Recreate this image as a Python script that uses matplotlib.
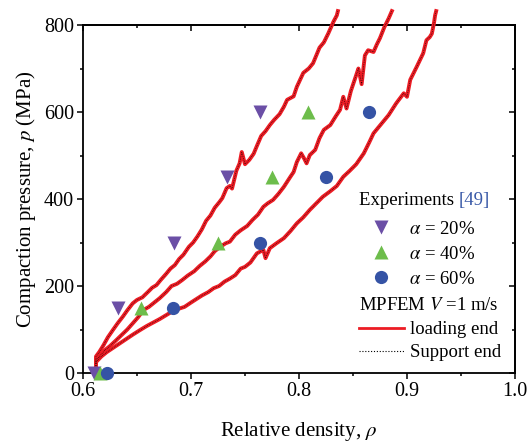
"""Compaction curves: MPFEM pressure vs relative density compared with experiments."""

import matplotlib

matplotlib.use("Agg", force=True)

import matplotlib.pyplot as plt
from matplotlib.lines import Line2D
from matplotlib.ticker import MultipleLocator

plt.rcParams["font.family"] = ["Liberation Serif", "DejaVu Serif"]
plt.rcParams["mathtext.fontset"] = "stix"

# experimental points, three mixing ratios
exp20_rho = [0.610, 0.632, 0.684, 0.733, 0.764]
exp20_p = [0, 150, 300, 450, 600]
exp40_rho = [0.616, 0.654, 0.725, 0.775, 0.808]
exp40_p = [0, 150, 300, 450, 600]
exp60_rho = [0.622, 0.683, 0.764, 0.825, 0.865]
exp60_p = [0, 150, 300, 450, 600]

# MPFEM, alpha = 20 %
sim20_rho = [0.612, 0.612, 0.615, 0.619, 0.623, 0.628, 0.632, 0.637, 0.641, 0.646,
             0.650, 0.655, 0.660, 0.664, 0.668, 0.672, 0.677, 0.681, 0.685, 0.689,
             0.693, 0.698, 0.702, 0.706, 0.710, 0.714, 0.718, 0.722, 0.726, 0.729,
             0.733, 0.736, 0.738, 0.742, 0.745, 0.747, 0.750, 0.754, 0.758, 0.761,
             0.765, 0.769, 0.773, 0.777, 0.782, 0.786, 0.789, 0.795, 0.798, 0.804,
             0.809, 0.813, 0.819, 0.823, 0.827, 0.832, 0.835, 0.836]
sim20_p = [0, 38, 48, 64, 82, 100, 114, 130, 144, 160,
           168, 174, 186, 196, 202, 214, 228, 240, 248, 262,
           272, 290, 300, 314, 330, 350, 362, 380, 392, 402,
           425, 430, 424, 465, 482, 508, 480, 490, 504, 522,
           545, 556, 570, 582, 595, 612, 628, 636, 658, 690,
           700, 712, 748, 760, 780, 808, 822, 832]

# MPFEM, alpha = 40 %
sim40_rho = [0.612, 0.612, 0.616, 0.620, 0.625, 0.631, 0.636, 0.641, 0.646, 0.651,
             0.656, 0.661, 0.666, 0.671, 0.677, 0.682, 0.687, 0.692, 0.697, 0.703,
             0.708, 0.713, 0.718, 0.722, 0.727, 0.732, 0.736, 0.741, 0.746, 0.752,
             0.757, 0.762, 0.767, 0.771, 0.776, 0.781, 0.786, 0.792, 0.795, 0.798,
             0.802, 0.805, 0.807, 0.810, 0.815, 0.819, 0.823, 0.829, 0.834, 0.838,
             0.841, 0.844, 0.848, 0.853, 0.855, 0.858, 0.861, 0.864, 0.869, 0.872,
             0.875, 0.879, 0.883, 0.886]
sim40_p = [0, 30, 40, 52, 62, 76, 88, 100, 114, 128,
           145, 152, 162, 172, 186, 200, 205, 214, 224, 234,
           246, 256, 268, 280, 290, 298, 302, 318, 328, 338,
           352, 364, 382, 390, 398, 412, 428, 451, 462, 485,
           505, 492, 482, 501, 513, 540, 559, 570, 590, 605,
           635, 608, 648, 685, 700, 664, 730, 742, 738, 755,
           770, 795, 815, 832]

# MPFEM, alpha = 60 %
sim60_rho = [0.612, 0.612, 0.617, 0.622, 0.628, 0.634, 0.640, 0.646, 0.653, 0.659,
             0.665, 0.671, 0.677, 0.683, 0.689, 0.694, 0.700, 0.705, 0.710, 0.716,
             0.721, 0.726, 0.731, 0.736, 0.741, 0.746, 0.750, 0.755, 0.761, 0.767,
             0.769, 0.773, 0.779, 0.786, 0.792, 0.798, 0.804, 0.810, 0.816, 0.822,
             0.829, 0.835, 0.841, 0.847, 0.853, 0.860, 0.865, 0.869, 0.876, 0.883,
             0.890, 0.897, 0.900, 0.903, 0.909, 0.915, 0.918, 0.921, 0.923, 0.925,
             0.926, 0.927]
sim60_p = [0, 25, 38, 48, 58, 68, 78, 88, 99, 108,
           116, 124, 133, 142, 148, 152, 162, 170, 178, 186,
           195, 200, 210, 217, 225, 240, 244, 254, 275, 283,
           264, 287, 298, 310, 326, 344, 358, 375, 390, 405,
           418, 430, 451, 465, 480, 505, 530, 551, 572, 593,
           620, 643, 635, 674, 704, 735, 765, 772, 780, 805,
           822, 832]

exp_series = [
    (exp20_rho, exp20_p, "v", "#6b4fa6", r"$\alpha$ = 20%"),
    (exp40_rho, exp40_p, "^", "#6dbd4b", r"$\alpha$ = 40%"),
    (exp60_rho, exp60_p, "o", "#3553a5", r"$\alpha$ = 60%"),
]
sim_series = [(sim20_rho, sim20_p), (sim40_rho, sim40_p), (sim60_rho, sim60_p)]

red = "#ec1c24"
support_style = (0, (1, 1.6))

fig = plt.figure(figsize=(5.31, 4.46), dpi=100)
ax = fig.add_axes([83 / 531, 1 - 373 / 446, 432 / 531, 348 / 446])

for rho, p in sim_series:
    ax.plot(rho, p, color=red, lw=2.8, clip_on=False, zorder=3)
    ax.plot(rho, p, color="black", lw=0.5, ls=support_style, clip_on=False, zorder=4)

marker_handles = []
for rho, p, mk, col, lab in exp_series:
    ms = 9.5 if mk == "o" else 10.5
    ax.plot(rho, p, ls="none", marker=mk, ms=ms, color=col, mec="none",
            clip_on=False, zorder=6)
    marker_handles.append(Line2D([], [], ls="none", marker=mk, ms=ms, color=col,
                                 mec="none", label=lab))

ax.set_xlim(0.6, 1.0)
ax.set_ylim(0, 800)
ax.xaxis.set_major_locator(MultipleLocator(0.1))
ax.xaxis.set_minor_locator(MultipleLocator(0.05))
ax.yaxis.set_major_locator(MultipleLocator(200))
ax.yaxis.set_minor_locator(MultipleLocator(100))
ax.xaxis.set_major_formatter(plt.FuncFormatter(lambda v, _: f"{v:.1f}"))
ax.tick_params(which="both", direction="out", labelsize=14.5, width=1.1)
ax.tick_params(which="major", length=4.5, pad=2)
ax.tick_params(which="minor", length=2.5)
for s in ax.spines.values():
    s.set_linewidth(1.3)

# mirrored ticks pointing inwards on top and right
top = ax.secondary_xaxis("top")
top.xaxis.set_major_locator(MultipleLocator(0.1))
top.xaxis.set_minor_locator(MultipleLocator(0.05))
top.tick_params(which="both", direction="in", labeltop=False, width=1.1)
top.tick_params(which="major", length=4.5)
top.tick_params(which="minor", length=2.5)
right = ax.secondary_yaxis("right")
right.yaxis.set_major_locator(MultipleLocator(200))
right.yaxis.set_minor_locator(MultipleLocator(100))
right.tick_params(which="both", direction="in", labelright=False, width=1.1)
right.tick_params(which="major", length=4.5)
right.tick_params(which="minor", length=2.5)
for sec in (top, right):
    for s in sec.spines.values():
        s.set_linewidth(1.3)

ax.set_xlabel(r"Relative density, $\rho$", fontsize=15, labelpad=14)
ax.set_ylabel(r"Compaction pressure, $p$ (MPa)", fontsize=15, labelpad=4)

# legend: two headed groups
head1 = ax.text(0.639, 0.497, "Experiments ", transform=ax.transAxes,
                fontsize=13.5, va="center", ha="left")
ax.annotate("[49]", xy=(1, 0), xycoords=head1, va="bottom", ha="left",
            fontsize=13.5, color="#3a5aa8")
leg1 = ax.legend(handles=marker_handles, loc="upper left",
                 bbox_to_anchor=(0.667, 0.437), frameon=False, fontsize=13.5,
                 handlelength=1.0, handletextpad=1.0, labelspacing=0.42,
                 borderpad=0, borderaxespad=0)
ax.add_artist(leg1)
ax.text(0.639, 0.195, r"MPFEM $V$ =1 m/s", transform=ax.transAxes,
        fontsize=13.5, va="center", ha="left")
line_handles = [
    Line2D([], [], color=red, lw=2.0, label="loading end"),
    Line2D([], [], color="black", lw=0.8, ls=support_style, label="Support end"),
]
ax.legend(handles=line_handles, loc="upper left", bbox_to_anchor=(0.639, 0.149),
          frameon=False, fontsize=13.5, handlelength=2.4, handletextpad=0.3,
          labelspacing=0.32, borderpad=0, borderaxespad=0)

fig.savefig("out.png", dpi=100)
